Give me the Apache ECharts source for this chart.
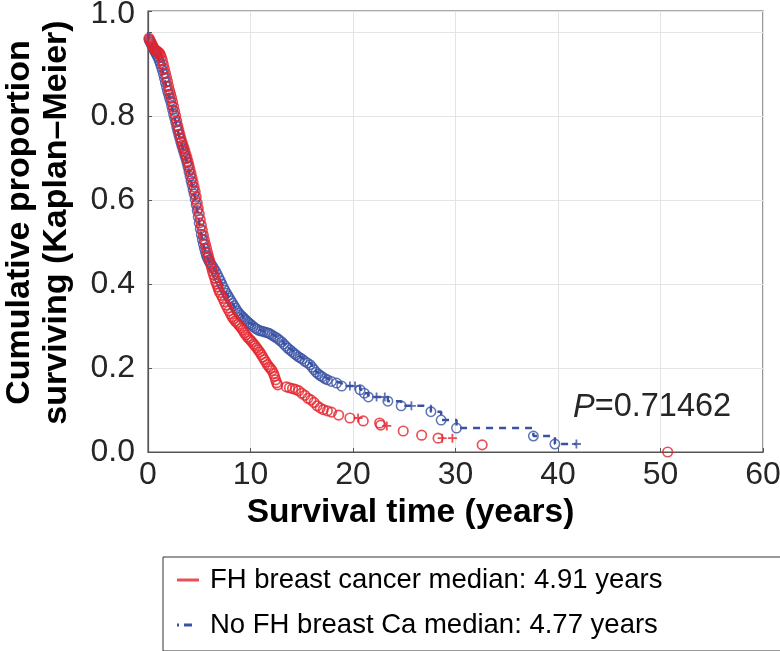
<!DOCTYPE html>
<html><head><meta charset="utf-8">
<script src="https://cdn.jsdelivr.net/npm/echarts@6/dist/echarts.min.js"></script>
<style>html,body{margin:0;padding:0;background:#fff}#c{width:780px;height:651px}</style>
</head><body><div id="c"></div>
<script>
// ---- data ----
const redTimes = [0.1,0.2,0.3,0.4,0.5,0.6,0.7,0.8,0.9,1.0,1.1,1.2,1.3,1.4,1.5,1.6,1.7,1.8,1.9,2.0,2.1,2.2,2.3,2.4,2.5,2.6,2.7,2.8,2.9,3.0,3.1,3.2,3.3,3.4,3.5,3.6,3.7,3.8,3.9,4.0,4.1,4.2,4.3,4.4,4.5,4.6,4.7,4.8,4.9,5.0,5.1,5.2,5.3,5.4,5.5,5.6,5.7,5.8,5.9,6.0,6.1,6.2,6.3,6.4,6.5,6.6,6.7,6.8,6.9,7.0,7.15,7.3,7.45,7.6,7.75,7.9,8.05,8.2,8.35,8.5,8.65,8.8,8.95,9.1,9.25,9.4,9.55,9.7,9.85,10.0,10.15,10.3,10.45,10.6,10.75,10.9,11.05,11.2,11.35,11.5,11.65,11.8,11.95,12.1,12.25,12.35,12.45,12.55,12.65,13.5,13.8,14.1,14.4,14.7,15.0,15.3,15.6,15.9,16.2,16.5,16.8,17.1,17.5,17.9,18.6,19.7,21.0,22.6,22.7,24.9,26.7,28.3,32.6,50.7];
const redSurv  = [0.985,0.98,0.975,0.97,0.965,0.96,0.957,0.956,0.954,0.952,0.95,0.946,0.94,0.932,0.922,0.912,0.902,0.892,0.882,0.871,0.861,0.852,0.843,0.833,0.822,0.811,0.8,0.788,0.777,0.767,0.757,0.748,0.739,0.731,0.724,0.716,0.708,0.7,0.691,0.682,0.672,0.662,0.652,0.642,0.631,0.62,0.607,0.593,0.58,0.567,0.553,0.54,0.528,0.516,0.505,0.495,0.485,0.475,0.466,0.457,0.448,0.439,0.43,0.422,0.414,0.406,0.4,0.393,0.386,0.38,0.373,0.366,0.358,0.35,0.343,0.336,0.329,0.322,0.317,0.312,0.308,0.304,0.3,0.295,0.29,0.284,0.279,0.274,0.27,0.266,0.262,0.257,0.253,0.248,0.243,0.238,0.232,0.226,0.22,0.214,0.208,0.203,0.199,0.194,0.187,0.18,0.172,0.165,0.16,0.155,0.153,0.151,0.149,0.146,0.14,0.135,0.128,0.124,0.118,0.11,0.105,0.101,0.098,0.095,0.088,0.081,0.074,0.069,0.064,0.05,0.04,0.033,0.017,0.0];
const redCensorTimes = [20.5,23.3,28.7,29.7];
const redCensorSurv  = [0.081,0.062,0.033,0.033];

const blueTimes = [0.1,0.2,0.3,0.4,0.5,0.6,0.7,0.8,0.9,1.0,1.1,1.2,1.3,1.4,1.5,1.6,1.7,1.8,1.9,2.0,2.1,2.2,2.3,2.4,2.5,2.6,2.7,2.8,2.9,3.0,3.1,3.2,3.3,3.4,3.5,3.6,3.7,3.8,3.9,4.0,4.1,4.2,4.3,4.4,4.5,4.6,4.7,4.8,4.9,5.0,5.1,5.2,5.3,5.4,5.5,5.6,5.7,5.8,5.9,6.0,6.15,6.3,6.45,6.6,6.75,6.9,7.05,7.2,7.35,7.5,7.65,7.8,7.95,8.1,8.25,8.4,8.55,8.7,8.85,9.0,9.15,9.3,9.45,9.6,9.75,9.9,10.05,10.25,10.45,10.65,10.85,11.05,11.25,11.45,11.65,11.85,12.05,12.25,12.45,12.65,12.85,13.05,13.25,13.45,13.65,13.85,14.05,14.25,14.45,14.65,14.85,15.05,15.3,15.55,15.8,16.0,16.2,16.4,16.6,16.8,17.0,17.25,17.5,17.9,18.4,18.9,20.7,21.1,21.5,23.4,24.7,27.6,28.6,30.1,37.6,39.7];
const blueSurv  = [0.982,0.977,0.972,0.967,0.962,0.957,0.952,0.948,0.943,0.938,0.932,0.925,0.917,0.909,0.9,0.89,0.88,0.87,0.86,0.852,0.843,0.835,0.825,0.815,0.805,0.795,0.785,0.775,0.765,0.756,0.747,0.738,0.73,0.722,0.714,0.706,0.698,0.689,0.679,0.668,0.657,0.646,0.636,0.625,0.614,0.602,0.589,0.575,0.56,0.545,0.531,0.518,0.506,0.495,0.485,0.476,0.468,0.462,0.457,0.452,0.447,0.442,0.436,0.43,0.423,0.415,0.408,0.4,0.392,0.385,0.378,0.372,0.366,0.36,0.354,0.348,0.342,0.336,0.331,0.327,0.323,0.32,0.316,0.313,0.309,0.306,0.303,0.299,0.295,0.292,0.289,0.288,0.287,0.285,0.284,0.282,0.279,0.276,0.273,0.27,0.266,0.262,0.257,0.252,0.247,0.243,0.239,0.235,0.231,0.227,0.224,0.221,0.216,0.212,0.208,0.202,0.196,0.19,0.186,0.182,0.179,0.175,0.172,0.168,0.164,0.157,0.148,0.14,0.131,0.121,0.11,0.096,0.076,0.057,0.038,0.019];
const blueCensorTimes = [19.7,20.2,22.3,23.1,25.7,41.8];
const blueCensorSurv  = [0.157,0.157,0.131,0.131,0.11,0.019];

const legendNames = ['FH breast cancer median: 4.91 years', 'No FH breast Ca median: 4.77 years'];
const xTitle = 'Survival time (years)';
const yTitle = 'Cumulative proportion\nsurviving (Kaplan\u2013Meier)';
const pValue = '0.71462';

// ---- chart ----
const RED = '#e3232c', BLUE = '#3953a4';
const FONT = "'Liberation Sans', Arial, Helvetica, sans-serif";
const pairs = (ts, ss) => ts.map((t, i) => [t, ss[i]]);
const PLUS = 'path://M4,0H6V4H10V6H6V10H4V6H0V4H4Z';
const blueLine = [[0, 1]].concat(pairs(blueTimes, blueSurv), [[blueCensorTimes[blueCensorTimes.length-1], blueCensorSurv[blueCensorSurv.length-1]]]);

const chart = echarts.init(document.getElementById('c'), null, {renderer: 'canvas'});
chart.setOption({
  animation: false,
  backgroundColor: '#fff',
  grid: {left: 148, top: 11, right: 17, bottom: 199, show: true, borderColor: '#555', borderWidth: 1.2,
         containLabel: false, outerBoundsMode: 'none'},
  xAxis: {
    type: 'value', min: 0, max: 60, interval: 10,
    name: xTitle, nameLocation: 'middle', nameGap: 40,
    nameTextStyle: {fontFamily: FONT, fontSize: 33.5, fontWeight: 'bold', color: '#000', padding: [0, 90, 0, 0]},
    axisLine: {lineStyle: {color: '#555', width: 1.2}},
    axisTick: {inside: true, length: 4, lineStyle: {color: '#555'}},
    axisLabel: {fontFamily: FONT, fontSize: 32, color: '#262626', margin: 7},
    splitLine: {show: true, lineStyle: {color: '#e4e4e4', width: 1}}
  },
  yAxis: {
    type: 'value', min: 0, max: 1.05, interval: 0.2,
    name: yTitle, nameLocation: 'middle', nameGap: 73, nameRotate: 90,
    nameTextStyle: {fontFamily: FONT, fontSize: 34, fontWeight: 'bold', color: '#000', lineHeight: 37, padding: [0, 0, 0, 18]},
    axisLine: {show: true, lineStyle: {color: '#555', width: 1.2}},
    axisTick: {show: true, inside: true, length: 4, lineStyle: {color: '#555'}},
    axisLabel: {fontFamily: FONT, fontSize: 32, color: '#262626', margin: 13,
      formatter: v => v > 1.001 ? '{top|1.0}' : (Math.abs(v - 1) < 1e-6 ? '' : v.toFixed(1)),
      rich: {top: {fontFamily: FONT, fontSize: 32, color: '#262626', padding: [6, 0, 0, 0]}}},
    splitLine: {show: true, lineStyle: {color: '#e4e4e4', width: 1}}
  },
  legend: {
    orient: 'vertical', left: 163, top: 557,
    itemWidth: 22, itemHeight: 3, itemGap: 17,
    padding: [9, 130, 12, 14],
    borderColor: '#333', borderWidth: 1, backgroundColor: '#fff',
    selectedMode: false,
    textStyle: {fontFamily: FONT, fontSize: 27.5, color: '#000', padding: [0, 0, 0, 6]},
    data: [
      {name: legendNames[0], icon: 'path://M0,0H22V3H0Z', itemStyle: {color: RED, borderWidth: 0}},
      {name: legendNames[1], icon: 'path://M0,0H2V3H0Z M7,0H15V3H7Z M22,0L22,3', itemStyle: {color: BLUE, borderWidth: 0}}
    ]
  },
  graphic: [{
    type: 'text', left: 573, top: 391, z: 100,
    style: {
      text: '{i|P}=' + pValue,
      rich: {i: {fontStyle: 'italic', fontSize: 32.5, fontFamily: FONT, fill: '#262626'}},
      fontSize: 32.5, fontFamily: FONT, fill: '#262626'
    }
  }],
  series: [
    {name: legendNames[1], type: 'line', step: 'end', data: blueLine, showSymbol: false, symbol: 'none',
     lineStyle: {color: BLUE, width: 2.5, type: [7, 6]}, itemStyle: {color: BLUE}, z: 2, silent: true},
    {name: legendNames[1], type: 'scatter', data: pairs(blueTimes, blueSurv), symbol: 'circle', symbolSize: 9.5,
     itemStyle: {color: 'rgba(0,0,0,0)', borderColor: BLUE, borderWidth: 1.5}, z: 3},
    {name: legendNames[1], type: 'scatter', data: pairs(blueCensorTimes, blueCensorSurv), symbol: PLUS, symbolSize: 9,
     itemStyle: {color: BLUE}, z: 3},
    {name: legendNames[0], type: 'scatter', data: pairs(redTimes, redSurv), symbol: 'circle', symbolSize: 9.5,
     itemStyle: {color: 'rgba(0,0,0,0)', borderColor: RED, borderWidth: 1.7}, z: 4},
    {name: legendNames[0], type: 'scatter', data: pairs(redCensorTimes, redCensorSurv), symbol: PLUS, symbolSize: 9,
     itemStyle: {color: RED}, z: 4}
  ]
});
</script>
</body></html>
